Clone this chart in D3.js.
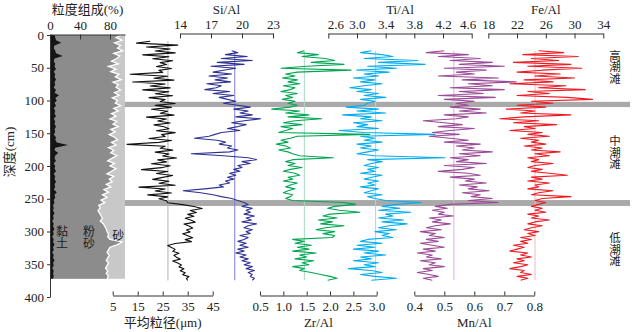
<!DOCTYPE html>
<html>
<head>
<meta charset="utf-8">
<script src="https://cdn.jsdelivr.net/npm/d3@7"></script>
<style>
body { margin: 0; background: #fff; }
svg text { font-family: "Liberation Serif", "Times New Roman", "Noto Sans CJK SC", serif; fill: #222; }
.vert { writing-mode: vertical-rl; text-orientation: upright; }
</style>
</head>
<body>
<div id="container"></div>
<script>
// Core profile: grain size + element ratios vs depth

const width = 634;
const height = 332;

// grain composition (%), sampled from 0 cm every 4 cm
const grainStart = 0, grainStep = 4;
const clay = [6, 7, 8, 15, 6, 5, 7, 8, 17, 6,
  5, 7, 6, 8, 5, 7, 6, 8, 6, 7,
  5, 8, 6, 12, 7, 9, 6, 8, 5, 7,
  6, 8, 5, 7, 6, 8, 6, 7, 5, 8,
  7, 9, 24, 7, 6, 11, 7, 6, 8, 5,
  7, 6, 8, 5, 7, 6, 8, 6, 7, 5,
  9, 6, 7, 5, 6, 4, 5, 4, 6, 4,
  5, 3, 5, 4, 6, 4, 5, 3, 5, 4,
  6, 4, 5, 3, 5, 4, 6, 4, 5, 3,
  5, 4, 5, 4];
const sand = [5, 12, 4, 14, 6, 10, 3, 15, 7, 11,
  18, 9, 22, 12, 19, 8, 13, 5, 16, 9,
  12, 6, 14, 8, 17, 10, 13, 6, 15, 9,
  18, 12, 20, 11, 16, 9, 19, 13, 21, 14,
  10, 18, 12, 22, 15, 19, 11, 17, 23, 14,
  20, 12, 18, 24, 15, 21, 17, 25, 19, 28,
  22, 30, 24, 32, 27, 35, 33, 36, 34, 32,
  30, 33, 29, 27, 25, 24, 22, 23, 20, 4,
  10, 20, 22, 24, 21, 23, 25, 22, 24, 26,
  23, 25, 22, 24];

// mean grain size (um)
const meanStart = 9.5, meanStep = 2.97;
const meanSize = [20.0, 14.5, 31.0, 18.5, 28.0, 22.0, 30.0, 17.0, 27.5, 21.0,
  29.0, 24.0, 26.5, 22.5, 28.5, 23.5, 25.0, 12.0, 27.0, 21.5,
  29.5, 13.0, 26.0, 20.0, 28.0, 17.0, 27.5, 22.0, 29.0, 19.5,
  26.0, 24.0, 30.0,
  22.0, 28.5, 20.5, 27.0, 24.0, 29.5, 18.5, 26.5, 23.0, 28.0,
  21.5, 25.5, 27.5, 22.5, 30.0, 24.5, 26.0, 19.5, 28.5, 23.5,
  10.7, 26.0, 24.0, 29.0, 22.0, 27.5, 25.0, 30.5, 23.0, 26.5,
  20.5, 28.0, 24.5, 16.5, 27.0, 22.5, 29.0, 25.0, 21.0, 27.5,
  23.5, 30.0, 15.5, 26.0, 22.0, 28.5, 19.0, 27.0, 23.5, 26.5,
  27.0,
  33.0, 37.5, 40.8, 36.0, 38.5, 35.0, 37.5, 34.0, 36.5, 38.0,
  33.5, 35.5, 37.0, 34.5, 36.0, 33.0, 35.0, 37.0, 34.0, 36.5,
  30.0, 27.0, 28.5, 30.0, 29.0, 31.5, 29.5, 30.5, 32.0, 29.0,
  31.0, 32.5, 31.5, 33.5, 32.0, 34.0, 33.0, 35.5, 34.5, 35.0];

// element ratios
const geoStart = 24, geoStep = 2.97;
const siAl = [19.0, 19.6, 18.4, 20.5, 18.0, 21.0, 17.6, 20.2, 17.0, 19.4,
  18.2, 17.2, 19.0, 16.8, 18.6, 17.4, 18.9, 16.6, 18.0, 17.5,
  16.4, 18.8, 17.2, 19.2, 17.8, 18.6, 19.4, 18.2,
  19.6, 20.8, 19.2, 20.6, 19.8, 21.0, 19.4, 21.8, 20.2, 19.0,
  20.4, 19.6, 18.6, 19.8, 18.0, 17.4, 16.8, 15.4, 17.6, 18.4,
  17.8, 19.0, 18.6, 19.6, 18.8, 15.1, 18.2, 20.6, 21.4, 20.0,
  20.8, 19.6, 20.0, 19.2, 19.8, 18.8, 19.4, 18.6, 19.2, 18.4,
  18.8, 17.8, 18.2, 16.4, 14.3, 16.0, 17.2, 18.0, 19.0, 19.6,
  20.2,
  20.6, 20.0, 21.0, 20.4, 20.8, 20.2, 21.2, 20.4, 20.9, 20.0,
  21.4, 20.6, 20.2, 21.0, 20.4, 20.8, 19.8, 20.6, 20.2, 19.6,
  20.4, 19.8, 20.6, 19.6, 20.2, 19.4, 20.4, 19.8, 20.6, 20.0,
  20.8, 20.2, 21.0, 20.4, 21.2, 20.6, 21.0, 20.8, 21.2, 21.0];
const zrAl = [1.45, 1.30, 1.75, 1.40, 1.90, 2.10, 1.60, 2.30, 1.50, 0.95,
  2.45, 1.30, 1.05, 1.25, 0.98, 1.30, 1.10, 1.35, 1.00, 1.25,
  1.15, 0.95, 1.30, 1.05, 1.20, 0.98, 1.25, 1.10,
  1.30, 1.15, 0.75, 1.35, 1.05, 1.55, 1.10, 1.82, 1.25, 1.00,
  1.40, 0.95, 1.20, 1.05, 0.90, 2.85, 1.30, 1.15, 0.95, 1.10,
  0.85, 1.05, 1.15, 0.90, 1.10, 1.20, 1.35, 2.07, 1.20, 1.05,
  1.25, 1.10, 1.40, 1.15, 1.00, 1.25, 1.35, 1.10, 1.20, 1.00,
  1.30, 1.15, 1.05, 1.25, 1.10, 1.00, 1.20, 1.15, 1.05, 1.20,
  2.30,
  2.55, 2.10, 1.95, 2.20, 2.64, 2.00, 1.85, 2.15, 1.75, 2.05,
  1.80, 2.30, 1.90, 1.70, 2.10, 1.85, 2.10, 2.05, 1.20, 1.45,
  1.25, 1.60, 1.30, 1.55, 1.20, 1.70, 1.35, 1.50, 1.25, 1.65,
  1.40, 1.55, 1.20, 1.45, 1.35, 1.60, 1.80, 2.00, 2.15, 1.95];
const tiAl = [3.20, 3.05, 3.35, 3.50, 3.10, 3.85, 3.30, 3.95, 3.15, 3.55,
  3.00, 3.45, 3.10, 3.30, 2.95, 3.25, 3.05, 3.35, 3.10, 2.90,
  3.20, 3.00, 3.30, 3.10, 3.40, 3.05, 3.25, 3.15,
  3.10, 2.85, 3.30, 3.00, 3.40, 2.80, 3.20, 3.05, 3.35, 2.95,
  3.15, 3.00, 3.30, 2.75, 3.10, 4.09, 3.05, 3.25, 3.10, 3.35,
  3.00, 3.20, 3.05, 3.30, 3.15, 3.00, 3.25, 4.23, 3.15, 3.35,
  3.20, 3.10, 3.30, 3.15, 3.25, 3.05, 3.35, 3.20, 3.10, 3.30,
  3.15, 3.25, 3.05, 3.30, 3.20, 3.10, 3.35, 3.15, 3.25, 3.40,
  3.90,
  3.55, 3.35, 3.60, 3.30, 3.75, 3.40, 3.50, 3.30, 3.65, 3.35,
  3.70, 3.45, 3.30, 3.55, 3.25, 3.45, 3.35, 3.50, 3.15, 3.05,
  3.35, 3.00, 3.25, 2.95, 3.30, 3.10, 3.40, 3.05, 3.20, 2.95,
  3.30, 3.10, 3.25, 2.88, 3.20, 3.35, 3.05, 3.25, 3.55, 3.20];
const mnAl = [0.50, 0.44, 0.58, 0.48, 0.62, 0.52, 0.66, 0.55, 0.70, 0.50,
  0.64, 0.54, 0.60, 0.48, 0.68, 0.56, 0.74, 0.58, 0.66, 0.52,
  0.70, 0.55, 0.63, 0.48, 0.67, 0.50, 0.60, 0.54,
  0.58, 0.52, 0.62, 0.55, 0.64, 0.50, 0.58, 0.54, 0.43, 0.50,
  0.56, 0.48, 0.60, 0.52, 0.46, 0.55, 0.45, 0.52, 0.58, 0.50,
  0.62, 0.54, 0.60, 0.56, 0.66, 0.55, 0.62, 0.52, 0.58, 0.54,
  0.64, 0.50, 0.60, 0.56, 0.48, 0.58, 0.62, 0.52, 0.60, 0.57,
  0.64, 0.55, 0.61, 0.58, 0.65, 0.56, 0.62, 0.59, 0.66, 0.58,
  0.68,
  0.52, 0.47, 0.51, 0.46, 0.50, 0.48, 0.53, 0.45, 0.49, 0.46,
  0.52, 0.47, 0.44, 0.49, 0.42, 0.47, 0.45, 0.50, 0.44, 0.48,
  0.42, 0.46, 0.50, 0.43, 0.47, 0.41, 0.46, 0.44, 0.49, 0.42,
  0.47, 0.45, 0.50, 0.43, 0.46, 0.41, 0.45, 0.48, 0.43, 0.46];
const feAl = [25.0, 28.5, 22.8, 30.5, 24.0, 27.8, 21.5, 29.5, 23.5, 31.0,
  25.5, 22.0, 28.0, 24.5, 30.0, 23.0, 27.0, 21.0, 28.8, 25.0,
  31.5, 23.5, 26.5, 22.0, 29.0, 32.5, 24.0, 27.0,
  22.0, 26.0, 20.5, 24.5, 22.5, 29.5, 23.0, 19.6, 25.0, 21.5,
  27.5, 23.0, 24.5, 21.0, 25.5, 23.5, 26.5, 22.5, 25.0, 24.0,
  26.0, 23.0, 25.5, 24.0, 28.0, 24.5, 26.5, 23.5, 25.0, 24.0,
  27.0, 24.5, 23.5, 25.5, 24.0, 26.5, 29.0, 24.0, 25.5, 23.5,
  26.5, 24.5, 25.0, 23.5, 27.0, 25.0, 24.0, 29.5, 25.5, 24.5,
  26.0,
  25.0, 24.0, 25.5, 24.5, 26.0, 23.5, 25.0, 24.0, 26.5, 24.5,
  23.5, 25.5, 24.0, 23.0, 25.0, 23.5, 24.5, 22.5, 24.0, 22.5,
  23.5, 21.5, 23.0, 22.0, 21.0, 23.5, 22.5, 24.0, 22.0, 23.0,
  21.5, 23.5, 22.5, 21.0, 23.0, 22.5, 24.0, 22.0, 23.5, 22.5];

// average values (thin vertical lines)
const avgMean = 27.1, avgSi = 19.3, avgZr = 1.45, avgTi = 3.26, avgMn = 0.532, avgFe = 24.5;

// zone boundaries (cm) and zone names
const bands = [[102, 110], [252, 261]];
const zoneNames = ["高潮滩", "中潮滩", "低潮滩"];
const zoneDepths = [49, 179, 327];

const svg = d3.select("#container")
    .append("svg")
    .attr("width", width)
    .attr("height", height)
    .style("background-color", "white");

const y = d3.scaleLinear().domain([0, 400]).range([35, 297]);
const xGrain = d3.scaleLinear().domain([0, 100]).range([50, 125]);
const xMean = d3.scaleLinear().domain([5, 45]).range([112.7, 212.7]);
const xSi = d3.scaleLinear().domain([14, 23]).range([180, 273]);
const xZr = d3.scaleLinear().domain([0.5, 3.0]).range([260, 376.7]);
const xTi = d3.scaleLinear().domain([2.6, 4.6]).range([328.3, 471.7]);
const xMn = d3.scaleLinear().domain([0.4, 0.8]).range([414.3, 534.3]);
const xFe = d3.scaleLinear().domain([18, 34]).range([488.3, 603.3]);

// grain composition panel (stacked areas)
const grain = clay.map((c, i) => ({ d: grainStart + i * grainStep, clay: c, silt: 100 - sand[i] }));

svg.append("path")
    .datum(grain)
    .attr("fill", "#c8c8c8")
    .attr("d", d3.area().x0(xGrain(0)).x1(xGrain(100)).y(d => y(d.d)));
svg.append("path")
    .datum(grain)
    .attr("fill", "#8c8c8c")
    .attr("d", d3.area().x0(xGrain(0)).x1(d => xGrain(d.silt)).y(d => y(d.d)));
svg.append("path")
    .datum(grain)
    .attr("fill", "#151515")
    .attr("d", d3.area().x0(xGrain(0)).x1(d => xGrain(d.clay)).y(d => y(d.d)));
svg.append("path")
    .datum(grain)
    .attr("fill", "none")
    .attr("stroke", "white")
    .attr("stroke-width", 1.3)
    .attr("d", d3.line().x(d => xGrain(d.silt)).y(d => y(d.d)));

// grey zone bands
svg.selectAll(".band")
    .data(bands)
    .join("rect")
    .attr("x", xGrain(100))
    .attr("width", 630 - xGrain(100))
    .attr("y", d => y(d[0]))
    .attr("height", d => y(d[1]) - y(d[0]))
    .attr("fill", "#a9a9a9");

const curves = [
    { vals: meanSize, start: meanStart, step: meanStep, x: xMean, avg: avgMean, color: "#111", avgColor: "#b0b0b0" },
    { vals: siAl, start: geoStart, step: geoStep, x: xSi, avg: avgSi, color: "#2e3192", avgColor: "#7b7bd6" },
    { vals: zrAl, start: geoStart, step: geoStep, x: xZr, avg: avgZr, color: "#00a651", avgColor: "#a8dcc2" },
    { vals: tiAl, start: geoStart, step: geoStep, x: xTi, avg: avgTi, color: "#00aeef", avgColor: "#9ad8f2" },
    { vals: mnAl, start: geoStart, step: geoStep, x: xMn, avg: avgMn, color: "#9b4a97", avgColor: "#dcb2d8" },
    { vals: feAl, start: geoStart, step: geoStep, x: xFe, avg: avgFe, color: "#ed1c24", avgColor: "#f5b8b8" }
];

curves.forEach(c => {
    const pts = c.vals.map((v, i) => ({ d: c.start + i * c.step, v: v }));
    svg.append("line")
        .attr("x1", c.x(c.avg)).attr("x2", c.x(c.avg))
        .attr("y1", y(pts[0].d)).attr("y2", y(pts[pts.length - 1].d))
        .attr("stroke", c.avgColor)
        .attr("stroke-width", 1);
    svg.append("path")
        .datum(pts)
        .attr("fill", "none")
        .attr("stroke", c.color)
        .attr("stroke-width", 1.1)
        .attr("stroke-linejoin", "round")
        .attr("d", d3.line().x(d => c.x(d.v)).y(d => y(d.d)));
});

// axes
function styleAxis(g) {
    g.selectAll("path, line").attr("stroke", "#333");
    g.selectAll("text").attr("font-size", "13px").attr("fill", "#222")
        .style("font-family", "'Liberation Serif', 'Times New Roman', serif");
}

svg.append("g")
    .attr("transform", `translate(${xGrain(0)},0)`)
    .call(d3.axisLeft(y).tickValues(d3.range(0, 401, 50)).tickSize(3).tickSizeOuter(0).tickPadding(3))
    .call(styleAxis);

const topAxes = [
    { x: xGrain, ticks: [0, 40, 80], fmt: d3.format("d"), title: "粒度组成(%)", y: 34.5 },
    { x: xSi, ticks: [14, 17, 20, 23], fmt: d3.format("d"), title: "Si/Al", y: 33.5 },
    { x: xTi, ticks: [2.6, 3.0, 3.4, 3.8, 4.2, 4.6], fmt: d3.format(".1f"), title: "Ti/Al", y: 33.5 },
    { x: xFe, ticks: [18, 22, 26, 30, 34], fmt: d3.format("d"), title: "Fe/Al", y: 33.5 }
];
topAxes.forEach(a => {
    svg.append("g")
        .attr("transform", `translate(0,${a.y})`)
        .call(d3.axisTop(a.x).tickValues(a.ticks).tickFormat(a.fmt).tickSize(-5).tickSizeOuter(0).tickPadding(5))
        .call(styleAxis);
    const r = a.x.range();
    svg.append("text")
        .attr("x", (r[0] + r[1]) / 2)
        .attr("y", 14)
        .attr("text-anchor", "middle")
        .attr("font-size", "13px")
        .attr("fill", "#333")
        .text(a.title);
});

const bottomAxes = [
    { x: xMean, ticks: [5, 15, 25, 35, 45], fmt: d3.format("d"), title: "平均粒径(μm)" },
    { x: xZr, ticks: [0.5, 1.0, 1.5, 2.0, 2.5, 3.0], fmt: d3.format(".1f"), title: "Zr/Al" },
    { x: xMn, ticks: [0.4, 0.5, 0.6, 0.7, 0.8], fmt: d3.format(".1f"), title: "Mn/Al" }
];
bottomAxes.forEach(a => {
    svg.append("g")
        .attr("transform", "translate(0,295.5)")
        .call(d3.axisBottom(a.x).tickValues(a.ticks).tickFormat(a.fmt).tickSize(-4).tickSizeOuter(0).tickPadding(6))
        .call(styleAxis);
    const r = a.x.range();
    svg.append("text")
        .attr("x", (r[0] + r[1]) / 2)
        .attr("y", 327)
        .attr("text-anchor", "middle")
        .attr("font-size", "13px")
        .attr("fill", "#333")
        .text(a.title);
});

// small nudges on crowded tick labels (as in the original)
svg.selectAll("g.tick text").filter(d => d === 2.6).attr("dx", 7);
svg.selectAll("g.tick text").filter(d => d === 4.6).attr("dx", -4);

// y title
svg.append("text")
    .attr("transform", "translate(14,152) rotate(-90)")
    .attr("text-anchor", "middle")
    .attr("font-size", "13px")
    .attr("fill", "#444")
    .text("深度(cm)");

// labels inside grain panel, written top to bottom
const grainLabels = ["黏土", "粉砂", "砂"];
const grainLabelPct = [16, 52, 91];
const grainLabelDepth = [309, 309, 306];
grainLabels.forEach((l, i) => {
    svg.append("text")
        .attr("class", "vert")
        .attr("x", xGrain(grainLabelPct[i]))
        .attr("y", y(grainLabelDepth[i]))
        .attr("text-anchor", "middle")
        .attr("font-size", "12px")
        .attr("fill", "#333")
        .style("font-family", "'Noto Sans CJK SC', sans-serif")
        .text(l);
});

// zone names, vertical
zoneNames.forEach((name, i) => {
    svg.append("text")
        .attr("class", "vert")
        .attr("x", 615)
        .attr("y", y(zoneDepths[i]))
        .attr("text-anchor", "middle")
        .attr("font-size", "11.5px")
        .attr("fill", "#555")
        .style("font-family", "'Noto Sans CJK SC', sans-serif")
        .text(name);
});
</script>
</body>
</html>
